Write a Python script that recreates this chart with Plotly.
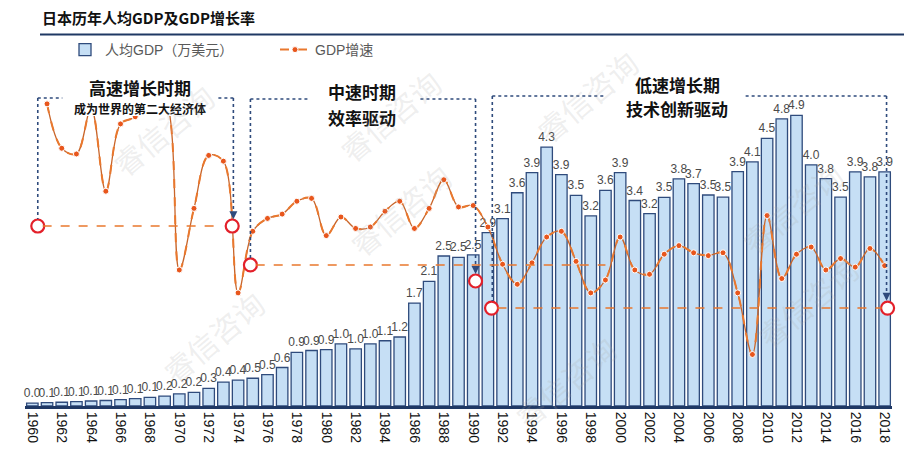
import plotly.graph_objects as go

years = list(range(1960, 2019))
gdp_per_capita = [0.048, 0.056, 0.063, 0.072, 0.084, 0.092, 0.106, 0.123, 0.145, 0.167,
                  0.204, 0.227, 0.297, 0.400, 0.435, 0.466, 0.528, 0.646, 0.900, 0.931,
                  0.946, 1.042, 0.958, 1.043, 1.095, 1.158, 1.727, 2.090, 2.517, 2.494,
                  2.536, 2.910, 3.143, 3.578, 3.915, 4.344, 3.882, 3.534, 3.190, 3.617,
                  3.917, 3.448, 3.229, 3.501, 3.811, 3.730, 3.540, 3.503, 3.934, 4.096,
                  4.491, 4.818, 4.875, 4.047, 3.816, 3.503, 3.929, 3.843, 3.929]
growth_years = list(range(1961, 2019))
gdp_growth = [12.0, 8.9, 8.5, 11.7, 5.9, 10.6, 11.1, 12.9, 12.5,
              0.4, 4.7, 8.4, 8.0, -1.2, 3.1, 4.0, 4.3, 5.2, 5.4,
              2.8, 4.1, 3.3, 3.4, 4.5, 5.2, 3.3, 4.7, 6.7, 4.8,
              4.9, 3.4, 0.8, -0.6, 0.9, 2.7, 3.1, 1.0, -1.2, -0.3,
              2.7, 0.4, 0.1, 1.5, 2.1, 1.6, 1.4, 1.6, -1.2, -5.5,
              4.2, -0.2, 1.5, 2.0, 0.4, 1.2, 0.6, 1.9, 0.7]
tick_years = list(range(1960, 2019, 2))

NAVY = "#2F4B7C"
ORANGE = "#E9782E"
RED = "#E3202A"
FONT = "Liberation Sans, Noto Sans CJK SC, sans-serif"
CJK = "Noto Sans CJK SC, sans-serif"

W_L, W_R, P_T, P_B = 25, 892, 40, 406


def px2paper(px, py):
    return (px - W_L) / (W_R - W_L), (P_B - py) / (P_B - P_T)


fig = go.Figure()
fig.add_trace(go.Bar(
    x=years, y=gdp_per_capita, name="人均GDP（万美元）",
    marker=dict(color="#C6DFF5", line=dict(color=NAVY, width=1.3)),
    texttemplate="%{y:.1f}", textposition="outside", constraintext="none",
    cliponaxis=False, textfont=dict(size=12, color="#4A4A4A", family=FONT),
))
fig.add_trace(go.Scatter(
    x=growth_years, y=gdp_growth, yaxis="y2", mode="lines", showlegend=False,
    line=dict(color="#C9652A", width=1.3, shape="spline", smoothing=1.0),
    hoverinfo="skip",
))
fig.add_trace(go.Scatter(
    x=growth_years, y=gdp_growth, yaxis="y2", name="GDP增速", mode="lines+markers",
    line=dict(color=ORANGE, width=2, dash="dash", shape="spline", smoothing=1.0),
    marker=dict(color="#E8561C", size=6, line=dict(color="white", width=1)),
))

shapes = []


def vline(x, y0, y1):
    shapes.append(dict(type="line", xref="x", yref="y2", x0=x, x1=x, y0=y0, y1=y1,
                       line=dict(color=NAVY, width=1.6, dash="dot"), layer="above"))


def hline_navy(y, x0, x1):
    shapes.append(dict(type="line", xref="x", yref="y2", x0=x0, x1=x1, y0=y, y1=y,
                       line=dict(color=NAVY, width=1.6, dash="dot"), layer="above"))


def hline_orange(y, x0, x1):
    shapes.append(dict(type="line", xref="x", yref="y2", x0=x0, x1=x1, y0=y, y1=y,
                       line=dict(color=ORANGE, width=1.6, dash="dash"), layer="above"))


# white cover behind the first box title
shapes.append(dict(type="rect", xref="x", yref="y2", x0=1962.1, x1=1972.6, y0=11.15, y1=14.0,
                   fillcolor="white", line=dict(width=0), layer="above"))

# box 1
vline(1960.37, 12.41, 3.96)
hline_navy(12.41, 1960.37, 1962.04)
hline_navy(12.41, 1972.66, 1973.68)
vline(1973.68, 12.41, 4.4)
# box 2
vline(1974.84, 12.34, 1.24)
hline_navy(12.34, 1974.84, 1978.79)
hline_navy(12.34, 1986.41, 1990.16)
vline(1990.16, 12.34, 0.6)
# box 3
vline(1991.3, 12.55, -1.77)
hline_navy(12.55, 1991.3, 1999.0)
hline_navy(12.55, 2008.54, 2018.13)
vline(2018.13, 12.55, -1.3)

hline_orange(3.47, 1960.7, 1972.46)
hline_orange(0.75, 1975.2, 1999.0)
hline_orange(-2.26, 1991.65, 2017.8)

fig.add_trace(go.Scatter(
    x=[1960.37, 1973.6, 1974.84, 1990.16, 1991.25, 2018.2],
    y=[3.47, 3.47, 0.75, -0.37, -2.26, -2.26], yaxis="y2", mode="markers",
    showlegend=False, hoverinfo="skip", cliponaxis=False,
    marker=dict(color="white", size=13, line=dict(color=RED, width=2.2)),
))

annotations = []
for x, y in [(1973.68, 3.95), (1990.16, 0.12), (2018.13, -1.75)]:
    annotations.append(dict(x=x, y=y, xref="x", yref="y2", text="", showarrow=True,
                            ax=0, ay=-9, arrowhead=2, arrowsize=1, arrowwidth=1.6,
                            arrowcolor=NAVY, standoff=0))


def label(x, y, text, size):
    annotations.append(dict(x=x, y=y, xref="x", yref="y2", text="<b>" + text + "</b>",
                            showarrow=False, font=dict(size=size, color="#111111", family=CJK)))


label(1967.35, 13.11, "高速增长时期", 17)
label(1967.35, 11.71, "成为世界的第二大经济体", 12)
label(1982.46, 12.83, "中速时期", 17)
label(1982.46, 11.08, "效率驱动", 17)
label(2003.9, 13.32, "低速增长期", 17)
label(2003.9, 11.71, "技术创新驱动", 17)

# title
tx, ty = px2paper(40, 17)
annotations.append(dict(x=tx, y=ty, xref="paper", yref="paper", text="<b>日本历年人均GDP及GDP增长率</b>",
                        showarrow=False, xanchor="left", yanchor="middle",
                        font=dict(size=15, color="#111111", family=CJK)))

# watermarks
for px, py in [(100, 72), (390, 58), (650, 38), (400, 210), (855, 150), (150, 395), (565, 440), (870, 360)]:
    xp, yp = px2paper(px, py)
    annotations.append(dict(x=xp, y=yp, xref="paper", yref="paper", text="睿信咨询", showarrow=False,
                            textangle=-40, font=dict(size=30, color="rgba(170,170,170,0.20)", family=CJK)))

lx0, ly = px2paper(40, 34.5)
lx1, _ = px2paper(904, 34.5)
shapes.append(dict(type="line", xref="paper", yref="paper", x0=lx0, x1=lx1, y0=ly, y1=ly,
                   line=dict(color="#1F3864", width=2.2)))

y2_top = (275.7 - P_T) / 14.32
y2_bot = -(P_B - 275.7) / 14.32
y_top = (P_B - P_T) / 59.6

lgx, lgy = px2paper(65, 50)

fig.update_layout(
    width=904, height=465,
    margin=dict(l=W_L, r=904 - W_R, t=P_T, b=465 - P_B),
    paper_bgcolor="white", plot_bgcolor="white",
    font=dict(family=FONT, color="#404040"),
    bargap=0.22,
    showlegend=True,
    legend=dict(orientation="h", x=lgx, y=lgy, xanchor="left", yanchor="middle",
                font=dict(size=14, color="#595959", family=FONT),
                bgcolor="rgba(0,0,0,0)", entrywidth=165, itemwidth=30),
    xaxis=dict(range=[1959.5, 2018.5], tickmode="array", tickvals=tick_years,
               ticktext=[str(y) for y in tick_years], tickangle=90,
               tickfont=dict(size=14, color="#111111", family=FONT),
               showgrid=False, zeroline=False, showline=True, linecolor="#1F3864", linewidth=3,
               ticks=""),
    yaxis=dict(range=[0, y_top], visible=False, showgrid=False, zeroline=False),
    yaxis2=dict(range=[y2_bot, y2_top], overlaying="y", side="right", visible=False,
                showgrid=False, zeroline=False),
    shapes=shapes,
    annotations=annotations,
)

fig.write_html("out.html", config={"displayModeBar": False},
               post_script="document.body.style.margin='0px';")
